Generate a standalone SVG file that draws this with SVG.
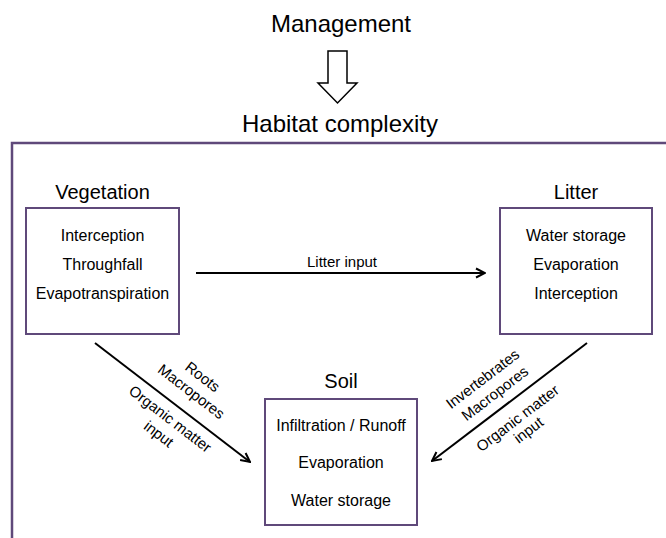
<svg xmlns="http://www.w3.org/2000/svg" width="666" height="538" viewBox="0 0 666 538">
<style>
text{font-family:"Liberation Sans",Arial,sans-serif;fill:#000;text-anchor:middle}
.title{font-size:20px}
.big{font-size:24px}
.item{font-size:16px}
.lbl{font-size:15px}
.box{fill:#fff;stroke:#5f497a;stroke-width:2}
.conn{stroke:#000;stroke-width:2;fill:none}
</style>
<defs>
<marker id="ah" viewBox="0 0 12 12" refX="11" refY="6" markerWidth="12" markerHeight="12" markerUnits="userSpaceOnUse" orient="auto">
<path d="M2,1.5 L11,6 L2,10.5" fill="none" stroke="#000" stroke-width="2"/>
</marker>
</defs>
<rect width="666" height="538" fill="#fff"/>
<g id="management">
<text class="big" x="341" y="32">Management</text>
<polygon points="328,51 347,51 347,83 357,83 337.5,103 318,83 328,83" fill="#fff" stroke="#000" stroke-width="1.5"/>
</g>
<g id="habitat">
<text class="big" x="340" y="132">Habitat complexity</text>
<path d="M12,538 V143 H666" fill="none" stroke="#5f497a" stroke-width="2.5"/>
</g>
<g id="vegetation">
<text class="title" x="102.5" y="199">Vegetation</text>
<rect class="box" x="26" y="208" width="153" height="126"/>
<text class="item" x="102.5" y="241">Interception</text>
<text class="item" x="102.5" y="270">Throughfall</text>
<text class="item" x="102.5" y="299">Evapotranspiration</text>
</g>
<g id="litter">
<text class="title" x="576" y="199">Litter</text>
<rect class="box" x="500" y="208" width="152" height="126"/>
<text class="item" x="576" y="241">Water storage</text>
<text class="item" x="576" y="270">Evaporation</text>
<text class="item" x="576" y="299">Interception</text>
</g>
<g id="soil">
<text class="title" x="341" y="388">Soil</text>
<rect class="box" x="265" y="399" width="152" height="126"/>
<text class="item" x="341" y="431">Infiltration / Runoff</text>
<text class="item" x="341" y="468">Evaporation</text>
<text class="item" x="341" y="506">Water storage</text>
</g>
<g id="connectors">
<line class="conn" x1="196" y1="273" x2="485" y2="273" marker-end="url(#ah)"/>
<text class="lbl" x="342" y="267">Litter input</text>
<line class="conn" x1="95" y1="343" x2="250" y2="462" marker-end="url(#ah)"/>
<g transform="translate(95,343) rotate(37.5)">
<text class="lbl" x="106" y="-33.5">Roots</text>
<text class="lbl" x="106" y="-15">Macropores</text>
<text class="lbl" x="106" y="19.5">Organic matter</text>
<text class="lbl" x="106" y="38.5">input</text>
</g>
<line class="conn" x1="587" y1="343" x2="432" y2="461" marker-end="url(#ah)"/>
<g transform="translate(432,461) rotate(-37.3)">
<text class="lbl" x="90" y="-29.5">Invertebrates</text>
<text class="lbl" x="91" y="-10.5">Macropores</text>
<text class="lbl" x="94" y="23">Organic matter</text>
<text class="lbl" x="95.5" y="39">input</text>
</g>
</g>
</svg>
